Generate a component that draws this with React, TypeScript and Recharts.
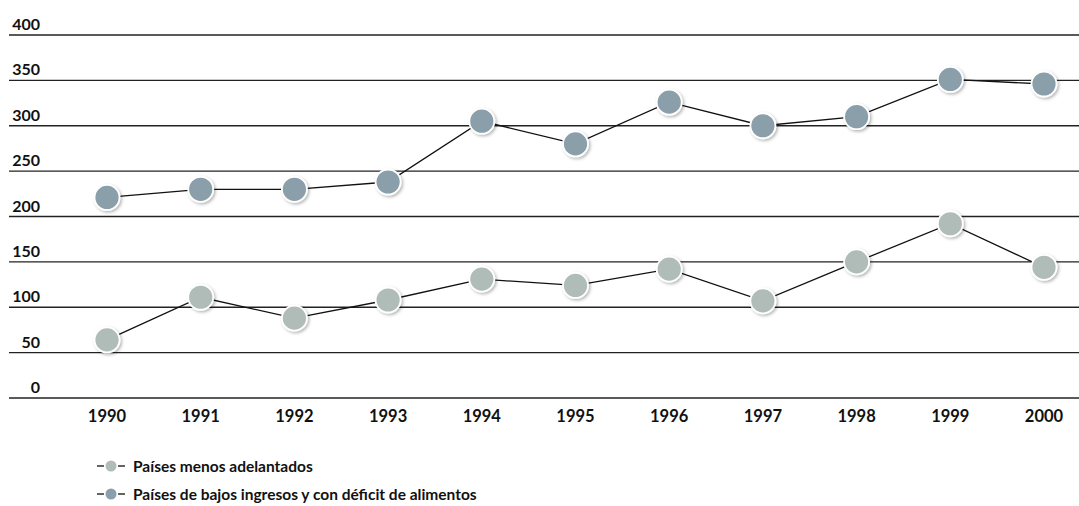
import { LineChart, Line, XAxis, YAxis, CartesianGrid } from "recharts";

const years = [1990, 1991, 1992, 1993, 1994, 1995, 1996, 1997, 1998, 1999, 2000];
const menosAdelantados = [64, 111, 88, 108, 131, 124, 142, 107, 150, 192, 144];
const bajosIngresos = [221, 230, 230, 238, 305, 280, 326, 300, 310, 351, 346];
const yTicks = [0, 50, 100, 150, 200, 250, 300, 350, 400];

const LIGHT = "#b0bcb8";
const DARK = "#8a9fa9";
const FONT = "Lato, 'Open Sans', sans-serif";

const data = years.map((year, i) => ({
  year,
  pma: menosAdelantados[i],
  pbidia: bajosIngresos[i],
}));

const legendItems = [
  { label: "Países menos adelantados", color: LIGHT },
  { label: "Países de bajos ingresos y con déficit de alimentos", color: DARK },
];

const makeDot = (fill: string) => (props: any) => {
  const { cx, cy, index } = props;
  if (cx == null || cy == null) return <g key={index} />;
  return (
    <circle
      key={index}
      cx={cx}
      cy={cy}
      r={12.5}
      fill={fill}
      stroke="#fff"
      strokeWidth={1.8}
      filter="url(#dotShadow)"
    />
  );
};

// values sit right-aligned just above their grid line
const YTick = ({ y, payload }: any) => (
  <text x={40} y={y - 5} textAnchor="end" fontFamily={FONT} fontWeight={700} fontSize={16} fill="#111">
    {payload.value}
  </text>
);

const XTick = ({ x, y, payload }: any) => (
  <text x={x} y={y + 16} textAnchor="middle" fontFamily={FONT} fontWeight={700} fontSize={16.5} fill="#111">
    {payload.value}
  </text>
);

export default function App() {
  return (
    <div style={{ position: "absolute", left: 0, top: 0, width: 1079, height: 506, background: "#fff" }}>
      <LineChart width={1079} height={506} data={data} margin={{ top: 35, right: 0, bottom: 78, left: 8 }}>
        <defs>
          <filter id="dotShadow" x="-50%" y="-50%" width="200%" height="200%">
            <feDropShadow dx={1.5} dy={1.5} stdDeviation={1.6} floodColor="#000" floodOpacity={0.3} />
          </filter>
        </defs>
        <CartesianGrid vertical={false} stroke="#222" strokeWidth={1.3} />
        <XAxis
          dataKey="year"
          type="number"
          domain={[1990, 2000]}
          ticks={years}
          padding={{ left: 98, right: 35 }}
          height={30}
          axisLine={false}
          tickLine={false}
          tick={<XTick />}
          interval={0}
        />
        <YAxis
          domain={[0, 400]}
          ticks={yTicks}
          width={1}
          axisLine={false}
          tickLine={false}
          tick={<YTick />}
          interval={0}
        />
        <Line
          dataKey="pbidia"
          stroke="#111"
          strokeWidth={1.3}
          dot={makeDot(DARK)}
          activeDot={false}
          isAnimationActive={false}
        />
        <Line
          dataKey="pma"
          stroke="#111"
          strokeWidth={1.3}
          dot={makeDot(LIGHT)}
          activeDot={false}
          isAnimationActive={false}
        />
      </LineChart>
      <div
        style={{
          position: "absolute",
          left: 95,
          top: 452,
          fontFamily: FONT,
          fontWeight: 700,
          fontSize: 15.5,
          color: "#111",
        }}
      >
        {legendItems.map((item) => (
          <div key={item.label} style={{ display: "flex", alignItems: "center", height: 28 }}>
            <svg width={32} height={14} style={{ marginRight: 6 }}>
              <line x1={2} y1={7} x2={9} y2={7} stroke="#222" strokeWidth={1.4} />
              <circle cx={16} cy={7} r={5.5} fill={item.color} />
              <line x1={23} y1={7} x2={30} y2={7} stroke="#222" strokeWidth={1.4} />
            </svg>
            <span>{item.label}</span>
          </div>
        ))}
      </div>
    </div>
  );
}
